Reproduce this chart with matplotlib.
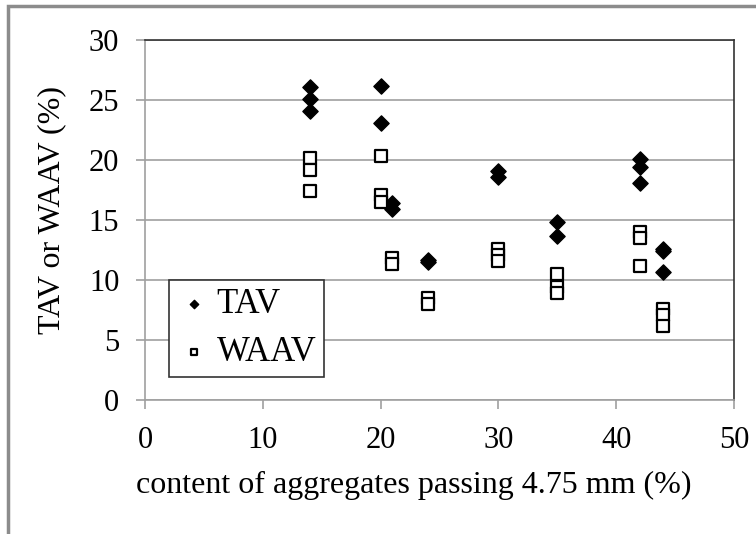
import matplotlib
matplotlib.use("Agg")
import matplotlib.pyplot as plt
from matplotlib.patches import Rectangle

# content of aggregates passing 4.75 mm (%)
tav_x = [14, 14, 14, 20, 20, 21, 21, 24, 24, 30, 30, 35, 35, 42, 42, 42, 44, 44, 44]
tav_y = [26.1, 25.1, 24.1, 26.2, 23.1, 16.4, 15.9, 11.7, 11.5, 19.1, 18.6, 14.8, 13.7,
         20.1, 19.4, 18.1, 12.6, 12.4, 10.7]

waav_x = [14, 14, 14, 20, 20, 20, 21, 21, 24, 24, 30, 30, 30, 35, 35, 35, 42, 42, 42, 44, 44, 44]
waav_y = [20.2, 19.2, 17.4, 20.3, 17.1, 16.5, 11.8, 11.3, 8.5, 8.0, 12.6, 12.1, 11.6,
          10.5, 9.4, 8.9, 14.0, 13.5, 11.2, 7.6, 7.1, 6.2]

xticks = [0, 10, 20, 30, 40, 50]
yticks = [0, 5, 10, 15, 20, 25, 30]

plt.rcParams['font.family'] = ['Liberation Serif', 'DejaVu Serif']

fig = plt.figure(figsize=(7.56, 5.34), dpi=100)
ax = fig.add_axes([145/756, 134/534, 589/756, 360/534])

# grey frame around the chart
fig.patches.append(Rectangle((8/756, -0.1), 1.2, (534-6)/534 + 0.1, transform=fig.transFigure,
                             fill=False, edgecolor='#8c8c8c', linewidth=2.5))

ax.scatter(tav_x, tav_y, marker='D', s=60, color='black', zorder=3, label='TAV')
ax.scatter(waav_x, waav_y, marker='s', s=75, facecolor='white', edgecolor='black',
           linewidth=1.6, zorder=3, label='WAAV')

ax.set_xlim(0, 50)
ax.set_ylim(0, 30)
ax.set_xticks(xticks)
ax.set_yticks(yticks)
ax.yaxis.grid(True, color='#a0a0a0', linewidth=1.2)
ax.set_axisbelow(True)

for s in ['left', 'bottom']:
    ax.spines[s].set_color('#a0a0a0')
    ax.spines[s].set_linewidth(1.2)
for s in ['top', 'right']:
    ax.spines[s].set_color('#333333')
    ax.spines[s].set_linewidth(1.2)

ax.tick_params(axis='both', direction='out', length=6.5, width=1.2, color='#a0a0a0',
               labelsize=22)
ax.tick_params(axis='x', pad=12)
ax.tick_params(axis='y', pad=12)

ax.set_xlabel('content of aggregates passing 4.75 mm (%)', fontsize=23)
ax.xaxis.set_label_coords((414-145)/589, -(471-400)/360)
ax.set_ylabel('TAV or WAAV (%)', fontsize=23)
ax.yaxis.set_label_coords(-(145-66)/589, (400-210)/360)

leg = ax.legend(loc='upper left', bbox_to_anchor=((169-145)/589, (400-280)/360),
                frameon=True, fancybox=False, fontsize=25, markerscale=0.55,
                handletextpad=0.15, handlelength=1.0, borderpad=0.22, labelspacing=0.45,
                borderaxespad=0)
leg.get_frame().set_edgecolor('#333333')
leg.get_frame().set_linewidth(1.2)
leg.get_frame().set_alpha(1)

fig.savefig('out.png', dpi=100)
